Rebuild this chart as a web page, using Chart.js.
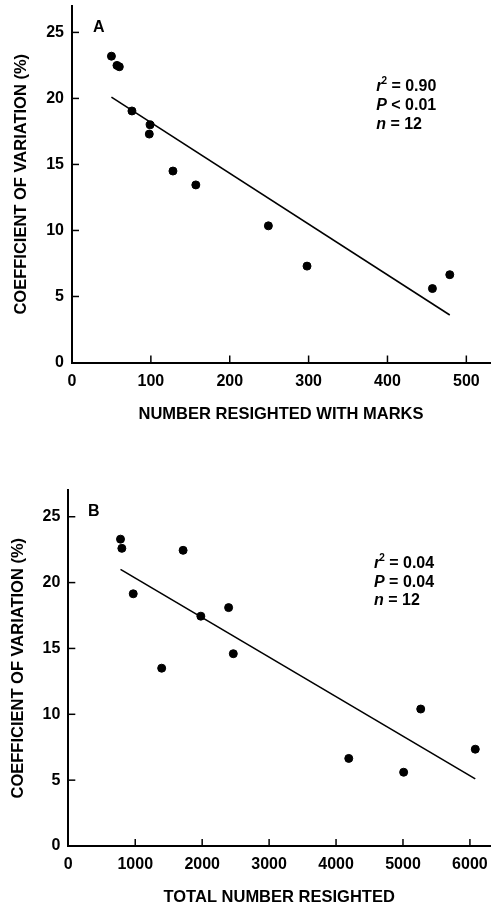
<!DOCTYPE html>
<html><head><meta charset="utf-8">
<script src="https://cdn.jsdelivr.net/npm/chart.js@4.4.1/dist/chart.umd.min.js"></script>
<style>
html,body{margin:0;padding:0;background:#fff;}
#wrapA{position:absolute;left:0;top:0;width:495px;height:440px;}
#wrapB{position:absolute;left:0;top:440px;width:495px;height:465px;}
</style></head><body>
<div id="wrapA"><canvas id="cA"></canvas></div>
<div id="wrapB"><canvas id="cB"></canvas></div>
<script>
// ---- Panel A data: number resighted with marks vs CV (%)
const marksX = [50, 57, 60, 76, 99, 98, 128, 157, 249, 298, 457, 479];
const marksCV = [23.2, 22.5, 22.4, 19.05, 18.0, 17.3, 14.5, 13.45, 10.35, 7.3, 5.6, 6.65];
const fitAX = [50, 479];
const fitAY = [20.1, 3.6];
const statsA = [['r', '2', ' = 0.90'], ['P', '', ' < 0.01'], ['n', '', ' = 12']];
const xTicksA = [0, 100, 200, 300, 400, 500];

// ---- Panel B data: total number resighted vs CV (%)
const totalX = [780, 800, 970, 1715, 1980, 2395, 1395, 2465, 4190, 5010, 5265, 6080];
const totalCV = [23.3, 22.6, 19.15, 22.45, 17.45, 18.1, 13.5, 14.6, 6.65, 5.6, 10.4, 7.35];
const fitBX = [780, 6080];
const fitBY = [21.0, 5.1];
const statsB = [['r', '2', ' = 0.04'], ['P', '', ' = 0.04'], ['n', '', ' = 12']];
const xTicksB = [0, 1000, 2000, 3000, 4000, 5000, 6000];

// ---- Axis labels
const yTitle = 'COEFFICIENT OF VARIATION (%)';
const xTitleA = 'NUMBER RESIGHTED WITH MARKS';
const xTitleB = 'TOTAL NUMBER RESIGHTED';
const yTicks = [0, 5, 10, 15, 20, 25];

const FONT = '"Liberation Sans", Arial, sans-serif';

const inwardTicks = {
  id: 'inwardTicks',
  afterDatasetsDraw(chart, args, opts) {
    const {ctx, chartArea, scales: {x, y}} = chart;
    ctx.save();
    ctx.strokeStyle = '#000';
    ctx.lineWidth = 1.5;
    x.ticks.forEach(t => {
      const px = x.getPixelForValue(t.value);
      if (px <= chartArea.left + 1) return;
      ctx.beginPath(); ctx.moveTo(px, chartArea.bottom); ctx.lineTo(px, chartArea.bottom - opts.len); ctx.stroke();
    });
    y.ticks.forEach(t => {
      const py = y.getPixelForValue(t.value);
      if (py >= chartArea.bottom - 1) return;
      ctx.beginPath(); ctx.moveTo(chartArea.left, py); ctx.lineTo(chartArea.left + opts.len, py); ctx.stroke();
    });
    ctx.restore();
  }
};

const statsText = {
  id: 'statsText',
  afterDraw(chart, args, opts) {
    const {ctx, scales: {x, y}} = chart;
    ctx.save();
    ctx.fillStyle = '#000';
    ctx.textAlign = 'left';
    ctx.textBaseline = 'alphabetic';
    ctx.font = 'bold 16px ' + FONT;
    ctx.fillText(opts.panel, x.getPixelForValue(opts.panelAt[0]), y.getPixelForValue(opts.panelAt[1]));
    const px = x.getPixelForValue(opts.at[0]);
    const py = y.getPixelForValue(opts.at[1]);
    opts.lines.forEach((ln, i) => {
      let cx = px;
      const by = py + i * opts.gap;
      ctx.font = 'italic bold 16px ' + FONT;
      ctx.fillText(ln[0], cx, by);
      cx += ctx.measureText(ln[0]).width;
      if (ln[1]) {
        ctx.font = 'bold 10px ' + FONT;
        ctx.fillText(ln[1], cx - 1, by - 7);
        cx += ctx.measureText(ln[1]).width - 1;
      }
      ctx.font = 'bold 16px ' + FONT;
      ctx.fillText(ln[2], cx, by);
    });
    ctx.restore();
  }
};

function makeChart(id, xs, ys, fx, fy, cfg) {
  const pts = xs.map((v, i) => ({x: v, y: ys[i]}));
  const fit = fx.map((v, i) => ({x: v, y: fy[i]}));
  return new Chart(document.getElementById(id), {
    type: 'scatter',
    data: {
      datasets: [
        {data: fit, showLine: true, borderColor: '#000', borderWidth: 1.6, pointRadius: 0, fill: false},
        {data: pts, backgroundColor: '#000', borderColor: '#000', pointRadius: 4, pointHoverRadius: 4}
      ]
    },
    options: {
      responsive: true,
      maintainAspectRatio: false,
      animation: false,
      events: [],
      layout: {padding: {top: cfg.padTop, right: 4, left: 0, bottom: 0}},
      plugins: {
        legend: {display: false},
        tooltip: {enabled: false},
        inwardTicks: {len: 7},
        statsText: {panel: cfg.panel, panelAt: cfg.panelAt, at: cfg.statsAt, gap: cfg.gap, lines: cfg.stats}
      },
      scales: {
        x: {
          type: 'linear', min: 0, max: cfg.xMax,
          afterBuildTicks: s => { s.ticks = cfg.xTicks.map(v => ({value: v})); },
          afterFit: s => { s.height = cfg.xH; s.paddingLeft = 0; s.paddingRight = 0; },
          border: {display: true, color: '#000', width: 2},
          grid: {display: false, drawTicks: false},
          ticks: {color: '#000', padding: 9, autoSkip: false, callback: v => String(v),
                  font: {family: FONT, size: 16, weight: 'bold'}, maxRotation: 0},
          title: {display: true, text: cfg.xTitle, color: '#000', padding: {top: 0, bottom: cfg.xTitlePad},
                  font: {family: FONT, size: 16.5, weight: 'bold'}}
        },
        y: {
          type: 'linear', min: 0, max: 27,
          afterBuildTicks: s => { s.ticks = yTicks.map(v => ({value: v})); },
          afterFit: s => { s.width = cfg.yW; s.paddingTop = 0; s.paddingBottom = 0; },
          border: {display: true, color: '#000', width: 2},
          grid: {display: false, drawTicks: false},
          ticks: {color: '#000', padding: 8, autoSkip: false, callback: v => String(v),
                  font: {family: FONT, size: 16, weight: 'bold'}},
          title: {display: true, text: yTitle, color: '#000', padding: {top: cfg.yTitlePad, bottom: 0},
                  font: {family: FONT, size: 16.5, weight: 'bold'}}
        }
      }
    },
    plugins: [inwardTicks, statsText]
  });
}

makeChart('cA', marksX, marksCV, fitAX, fitAY, {
  panel: 'A', panelAt: [26.6, 25.0], statsAt: [385.7, 20.6], gap: 19, stats: statsA,
  xMax: 530, xTicks: xTicksA, xTitle: xTitleA, padTop: 6, xH: 77.5, yW: 72, xTitlePad: 16, yTitlePad: 11.5
});
makeChart('cB', totalX, totalCV, fitBX, fitBY, {
  panel: 'B', panelAt: [294, 25.06], statsAt: [4567, 21.1], gap: 18.5, stats: statsB,
  xMax: 6300, xTicks: xTicksB, xTitle: xTitleB, padTop: 50.4, xH: 59, yW: 68.3, xTitlePad: -2, yTitlePad: 8.5
});
</script>
</body></html>
